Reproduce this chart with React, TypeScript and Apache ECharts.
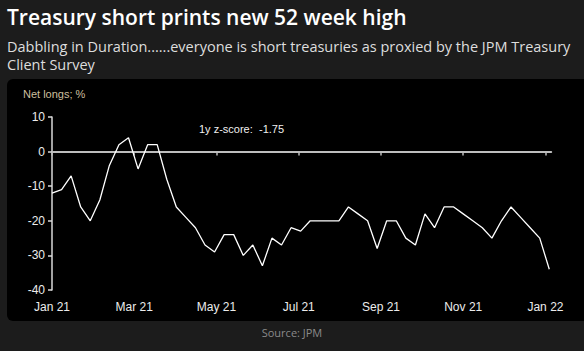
import React, { useEffect, useRef } from "react";
import * as echarts from "echarts";

// Weekly net longs (%) from the JPM Treasury Client Survey, Jan 2021 – Jan 2022
const netLongs: number[] = [
  -12, -11, -7, -16, -20, -14, -4, 2, 4, -5, 2, 2, -8, -16, -19, -22, -27, -29,
  -24, -24, -30, -27, -33, -25, -27, -22, -23, -20, -20, -20, -20, -16, -18, -20,
  -28, -20, -20, -25, -27, -18, -22, -16, -16, -18, -20, -22, -25, -20, -16, -19,
  -22, -25, -34,
];

// x-axis month labels and their position in weeks from the first observation
const tickLabels: string[] = ["Jan 21", "Mar 21", "May 21", "Jul 21", "Sep 21", "Nov 21", "Jan 22"];
const tickWeeks: number[] = [0, 8.6, 17.2, 25.8, 34.4, 43.0, 51.6];

const yTicks = { min: -40, max: 10, interval: 10 };

const title = "Treasury short prints new 52 week high";
const subtitleLines = [
  "Dabbling in Duration......everyone is short treasuries as proxied by the JPM Treasury",
  "Client Survey",
];
const unitLabel = "Net longs; %";
const zScoreName = "1y z-score:";
const zScoreValue = "-1.75";
const source = "Source: JPM";

export default function App() {
  const ref = useRef<HTMLDivElement>(null);

  useEffect(() => {
    document.body.style.margin = "0";
    const chart = echarts.init(ref.current!, null, { renderer: "svg" });
    const seriesData = netLongs.map((v, i) => [i, v]);
    const xMin = 0;
    const xMax = 52.2;
    const labelFont = "'Liberation Sans', Arial, sans-serif";
    const headFont = "'Open Sans', 'Noto Sans', sans-serif";

    chart.setOption({
      animation: false,
      backgroundColor: "#1c1c1c",
      graphic: [
        {
          type: "rect",
          shape: { x: 7, y: 79, width: 590, height: 242, r: 6 },
          style: { fill: "#000000" },
          z: -10,
        },
        {
          type: "text",
          x: 7,
          y: 17,
          style: {
            text: title,
            fill: "#ffffff",
            font: `600 21px ${headFont}`,
            textVerticalAlign: "middle",
          },
        },
        {
          type: "text",
          x: 7,
          y: 46.5,
          style: {
            text: subtitleLines[0],
            fill: "#dedede",
            font: `400 14.5px ${headFont}`,
            textVerticalAlign: "middle",
          },
        },
        {
          type: "text",
          x: 7,
          y: 64.5,
          style: {
            text: subtitleLines[1],
            fill: "#dedede",
            font: `400 14.5px ${headFont}`,
            textVerticalAlign: "middle",
          },
        },
        {
          type: "text",
          x: 23,
          y: 94,
          style: {
            text: unitLabel,
            fill: "#cdbf9f",
            font: `400 11px ${labelFont}`,
            textVerticalAlign: "middle",
          },
        },
        {
          type: "text",
          x: 199,
          y: 129,
          style: {
            text: zScoreName,
            fill: "#f0f0f0",
            font: `400 11px ${labelFont}`,
            textVerticalAlign: "middle",
          },
        },
        {
          type: "text",
          x: 259,
          y: 129,
          style: {
            text: zScoreValue,
            fill: "#f0f0f0",
            font: `400 11px ${labelFont}`,
            textVerticalAlign: "middle",
          },
        },
        {
          type: "text",
          x: 292,
          y: 332,
          style: {
            text: source,
            fill: "#8a8a8a",
            font: `400 11px ${headFont}`,
            textAlign: "center",
            textVerticalAlign: "middle",
          },
        },
      ],
      grid: { left: 52, top: 117, width: 499.2, height: 173, containLabel: false },
      xAxis: [
        {
          type: "value",
          position: "bottom",
          min: xMin,
          max: xMax,
          axisLine: { show: false, onZero: false },
          axisTick: { show: false },
          splitLine: { show: false },
          axisLabel: {
            customValues: tickWeeks,
            margin: 11,
            color: "#ececec",
            fontSize: 12,
            fontFamily: labelFont,
            formatter: (v: number) => {
              const idx = tickWeeks.findIndex((t) => Math.abs(t - v) < 0.01);
              return idx >= 0 ? tickLabels[idx] : "";
            },
          },
        },
        {
          type: "value",
          position: "top",
          min: xMin,
          max: xMax,
          axisLine: { show: true, onZero: true, lineStyle: { color: "#bdbdbd", width: 2 } },
          axisTick: {
            show: true,
            inside: true,
            length: 4,
            customValues: tickWeeks,
            lineStyle: { color: "#bdbdbd", width: 1.5 },
          },
          axisLabel: { show: false },
          splitLine: { show: false },
        },
      ],
      yAxis: {
        type: "value",
        min: yTicks.min,
        max: yTicks.max,
        interval: yTicks.interval,
        axisLine: { show: true, onZero: false, lineStyle: { color: "#d8d8d8", width: 1.5 } },
        axisTick: { show: true, length: 4, lineStyle: { color: "#d8d8d8", width: 1.5 } },
        splitLine: { show: false },
        axisLabel: {
          margin: 7,
          color: "#ececec",
          fontSize: 12,
          fontFamily: labelFont,
        },
      },
      series: [
        {
          type: "line",
          xAxisIndex: 0,
          data: seriesData,
          showSymbol: false,
          symbol: "none",
          lineStyle: { color: "#ffffff", width: 1.3 },
          z: 5,
        },
      ],
    });

    return () => chart.dispose();
  }, []);

  return <div ref={ref} style={{ width: 584, height: 351 }} />;
}
